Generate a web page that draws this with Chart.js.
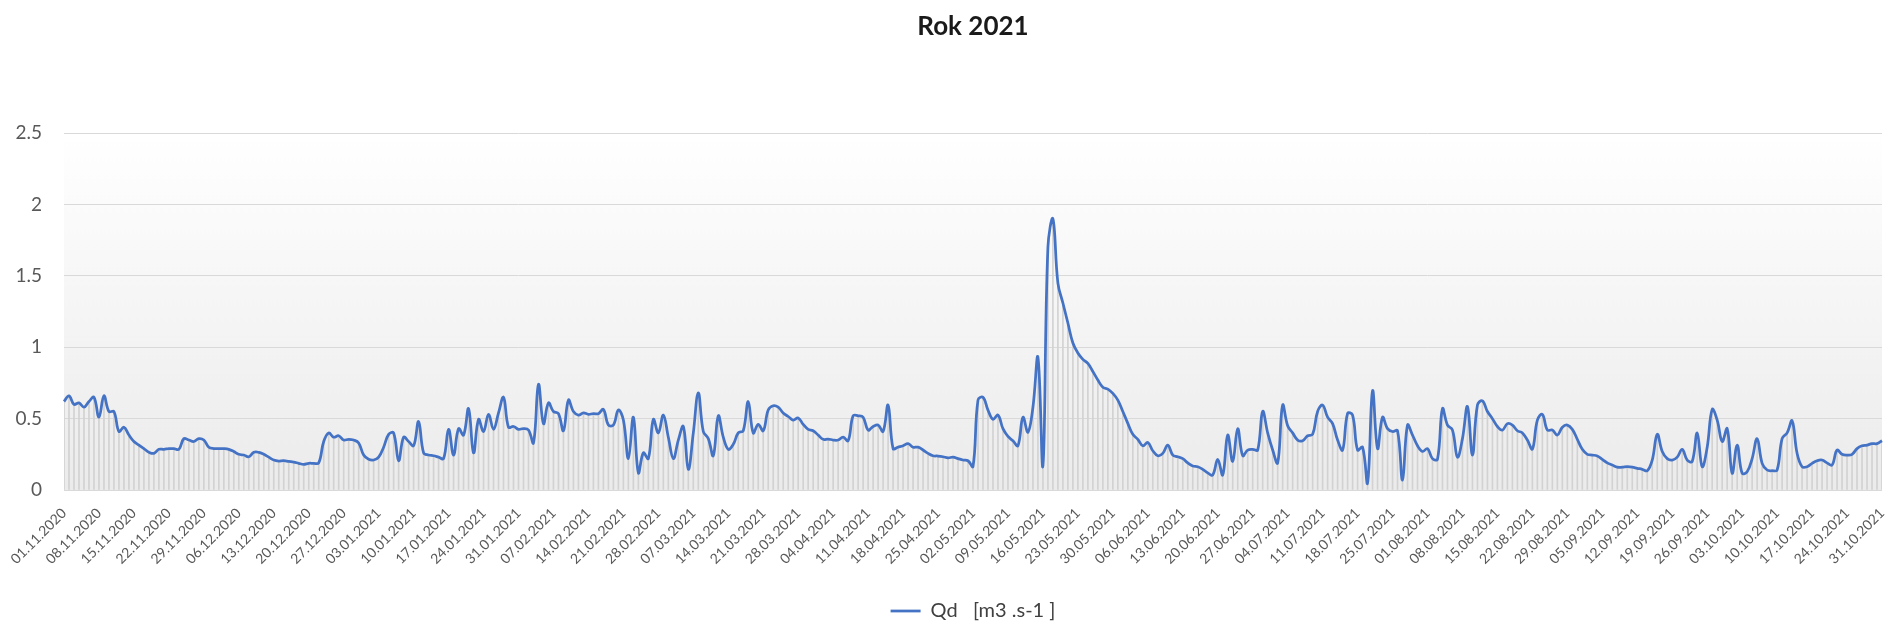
<!DOCTYPE html>
<html>
<head>
<meta charset="utf-8">
<script src="https://cdn.jsdelivr.net/npm/chart.js@4/dist/chart.umd.min.js"></script>
<style>
  html, body { margin: 0; padding: 0; background: #fff; }
  #wrap { width: 1886px; height: 635px; }
</style>
</head>
<body>
<div id="wrap"><canvas id="qchart" width="1886" height="635"></canvas></div>
<script>
// daily discharge Qd, 01.11.2020 - 31.10.2021
var qd = [
  0.62, 0.66, 0.60, 0.61, 0.58, 0.62, 0.65, 0.51, 0.66, 0.55,
  0.55, 0.41, 0.44, 0.385, 0.34, 0.315, 0.29, 0.265, 0.257, 0.285,
  0.285, 0.29, 0.29, 0.285, 0.36, 0.35, 0.34, 0.36, 0.35, 0.30,
  0.29, 0.29, 0.29, 0.285, 0.27, 0.25, 0.245, 0.233, 0.264, 0.264,
  0.25, 0.23, 0.21, 0.203, 0.205, 0.20, 0.196, 0.187, 0.18, 0.187,
  0.187, 0.19, 0.34, 0.40, 0.37, 0.38, 0.35, 0.355, 0.35, 0.33,
  0.245, 0.215, 0.21, 0.23, 0.30, 0.39, 0.40, 0.205, 0.37, 0.34,
  0.31, 0.48, 0.26, 0.245, 0.24, 0.23, 0.22, 0.425, 0.245, 0.43,
  0.385, 0.57, 0.26, 0.495, 0.41, 0.53, 0.425, 0.54, 0.65, 0.44,
  0.445, 0.425, 0.43, 0.42, 0.33, 0.74, 0.465, 0.61, 0.55, 0.535,
  0.415, 0.63, 0.55, 0.525, 0.54, 0.53, 0.535, 0.535, 0.565, 0.455,
  0.455, 0.56, 0.49, 0.22, 0.51, 0.12, 0.26, 0.22, 0.495, 0.40,
  0.525, 0.37, 0.22, 0.35, 0.445, 0.145, 0.40, 0.68, 0.41, 0.36,
  0.24, 0.52, 0.37, 0.285, 0.32, 0.40, 0.415, 0.62, 0.40, 0.46,
  0.415, 0.56, 0.59, 0.58, 0.54, 0.515, 0.49, 0.505, 0.46, 0.425,
  0.415, 0.385, 0.355, 0.357, 0.35, 0.35, 0.37, 0.345, 0.52, 0.52,
  0.51, 0.42, 0.445, 0.455, 0.41, 0.595, 0.29, 0.30, 0.31, 0.325,
  0.30, 0.30, 0.28, 0.257, 0.24, 0.238, 0.233, 0.225, 0.23, 0.22,
  0.21, 0.205, 0.165, 0.63, 0.65, 0.56, 0.495, 0.525, 0.43, 0.375,
  0.345, 0.31, 0.51, 0.405, 0.58, 0.93, 0.17, 1.70, 1.90, 1.45,
  1.31, 1.17, 1.03, 0.96, 0.915, 0.887, 0.83, 0.77, 0.72, 0.707,
  0.677, 0.63, 0.55, 0.467, 0.39, 0.355, 0.31, 0.333, 0.275, 0.24,
  0.257, 0.315, 0.245, 0.233, 0.22, 0.19, 0.168, 0.163, 0.145, 0.12,
  0.105, 0.215, 0.105, 0.385, 0.20, 0.43, 0.24, 0.28, 0.285, 0.28,
  0.55, 0.40, 0.28, 0.19, 0.595, 0.45, 0.40, 0.35, 0.345, 0.38,
  0.39, 0.55, 0.595, 0.51, 0.465, 0.35, 0.28, 0.537, 0.525, 0.28,
  0.30, 0.05, 0.695, 0.29, 0.51, 0.43, 0.41, 0.415, 0.07, 0.455,
  0.385, 0.31, 0.27, 0.29, 0.22, 0.215, 0.57, 0.455, 0.42, 0.23,
  0.36, 0.585, 0.245, 0.595, 0.625, 0.55, 0.50, 0.445, 0.42, 0.465,
  0.455, 0.415, 0.40, 0.35, 0.287, 0.49, 0.53, 0.42, 0.42, 0.385,
  0.44, 0.455, 0.425, 0.355, 0.285, 0.25, 0.245, 0.238, 0.215, 0.19,
  0.175, 0.16, 0.16, 0.163, 0.16, 0.152, 0.145, 0.135, 0.21, 0.39,
  0.27, 0.22, 0.21, 0.23, 0.285, 0.21, 0.20, 0.40, 0.163, 0.30,
  0.565, 0.49, 0.34, 0.43, 0.117, 0.315, 0.117, 0.128, 0.22, 0.36,
  0.187, 0.14, 0.135, 0.14, 0.36, 0.40, 0.485, 0.257, 0.163, 0.163,
  0.187, 0.205, 0.21, 0.19, 0.175, 0.28, 0.25, 0.245, 0.25, 0.29,
  0.31, 0.315, 0.325, 0.325, 0.345
]

var yTicks = [0, 0.5, 1, 1.5, 2, 2.5]
var labelEvery = 7   // a date label each week

// one category per day
var days = []
var start = Date.UTC(2020, 10, 1)
for (var i = 0; i < qd.length; i++) {
  var d = new Date(start + i * 86400000)
  var dd = ("0" + d.getUTCDate()).slice(-2)
  var mm = ("0" + (d.getUTCMonth() + 1)).slice(-2)
  days.push(dd + "." + mm + "." + d.getUTCFullYear())
}

Chart.defaults.font.family = 'Lato, "Open Sans", sans-serif'
Chart.defaults.color = '#595959'

// light grey gradient behind the plot
var plotBg = {
  id: 'plotBg',
  beforeDraw: (chart) => {
    var a = chart.chartArea, ctx = chart.ctx
    var g = ctx.createLinearGradient(0, a.top, 0, a.bottom)
    g.addColorStop(0, '#ffffff')
    g.addColorStop(1, '#ebebeb')
    ctx.save()
    ctx.fillStyle = g
    ctx.fillRect(a.left, a.top, a.right - a.left, a.bottom - a.top)
    ctx.restore()
  }
}

var chartQ = new Chart(document.getElementById('qchart'), {
  type: 'line',
  data: {
    labels: days,
    datasets: [{
      label: 'Qd   [m3 .s-1 ]',
      data: qd,
      borderColor: '#4472C4',
      backgroundColor: '#4472C4',
      borderWidth: 2.75,
      pointRadius: 0,
      pointStyle: 'line',
      tension: 0.4,
      order: 0
    }, {
      type: 'bar',
      label: 'drop',
      data: qd,
      backgroundColor: '#d2d2d2',
      barThickness: 1,
      order: 1
    }]
  },
  options: {
    responsive: false,
    animation: false,
    layout: { padding: { left: 6, right: 4, top: 0, bottom: 4 } },
    plugins: {
      title: {
        display: true,
        text: 'Rok 2021',
        fullSize: false,
        color: '#1a1a1a',
        font: { size: 26, weight: 'bold' },
        padding: { top: 11, bottom: 91 }
      },
      legend: {
        position: 'bottom',
        fullSize: false,
        labels: {
          usePointStyle: true,
          pointStyleWidth: 30,
          color: '#404040',
          font: { size: 20 },
          filter: (item) => item.datasetIndex === 0
        }
      },
      tooltip: { enabled: false }
    },
    scales: {
      x: {
        offset: false,
        grid: { display: false },
        border: { display: false },
        ticks: {
          autoSkip: false,
          minRotation: 45,
          maxRotation: 45,
          padding: 7,
          font: { size: 14 },
          callback: function (val, idx) {
            return idx % labelEvery === 0 ? days[idx] : ''
          }
        },
        afterFit: (scale) => {
          scale.height = 101
          scale.paddingLeft = 0
          scale.paddingRight = 0
        }
      },
      y: {
        min: 0,
        max: 2.5,
        afterBuildTicks: (scale) => { scale.ticks = yTicks.map(v => ({ value: v })) },
        afterFit: (scale) => { scale.width = 58 },
        grid: { color: '#d9d9d9', drawTicks: false },
        border: { display: false },
        ticks: {
          padding: 22,
          font: { size: 19 },
          callback: (v) => String(v)
        }
      }
    }
  },
  plugins: [plotBg]
})
</script>
</body>
</html>
